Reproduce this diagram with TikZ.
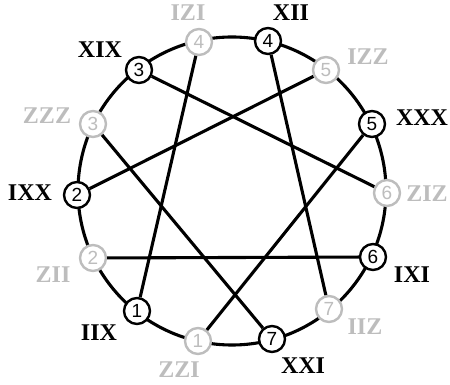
\documentclass[tikz,border=0pt]{standalone}
\usepackage{fontspec}
\setmainfont{Liberation Serif}
\newfontfamily\digitfont{Liberation Sans}
\usetikzlibrary{backgrounds}
\definecolor{pale}{gray}{0.74}
\begin{document}
\begin{tikzpicture}[x=1pt,y=1pt,
    qubit/.style={circle,draw,line width=2.4pt,fill=white,minimum size=26pt,
      inner sep=0pt,font=\digitfont\fontsize{19}{19}\selectfont},
    ghost/.style={qubit,draw=pale,text=pale},
    tag/.style={font=\bfseries\fontsize{24}{24}\selectfont},
    chord/.style={line width=3.1pt}]
  \useasboundingbox (0,0) rectangle (450,385);
  % black ring
  \node[qubit] (b1) at (137,74) {1};
  \node[qubit] (b2) at (77,190) {2};
  \node[qubit] (b3) at (139,315) {3};
  \node[qubit] (b4) at (268,344) {4};
  \node[qubit] (b5) at (372,261) {5};
  \node[qubit] (b6) at (373,128) {6};
  \node[qubit] (b7) at (272,46) {7};
  % grey ring
  \node[ghost] (g1) at (198,44) {1};
  \node[ghost] (g2) at (93,127) {2};
  \node[ghost] (g3) at (93,261) {3};
  \node[ghost] (g4) at (199,343) {4};
  \node[ghost] (g5) at (326,315) {5};
  \node[ghost] (g6) at (387,192) {6};
  \node[ghost] (g7) at (329,76) {7};
  % names
  \node[tag] (nb1) at (99,52) {IIX};
  \node[tag] (nb2) at (30,192) {IXX};
  \node[tag] (nb3) at (100,335) {XIX};
  \node[tag] (nb4) at (291,372) {XII};
  \node[tag] (nb5) at (422,267) {XXX};
  \node[tag] (nb6) at (412,110) {IXI};
  \node[tag] (nb7) at (303,19) {XXI};
  \node[tag,pale] (ng1) at (179,15) {ZZI};
  \node[tag,pale] (ng2) at (53,110) {ZII};
  \node[tag,pale] (ng3) at (47,269) {ZZZ};
  \node[tag,pale] (ng4) at (188,372) {IZI};
  \node[tag,pale] (ng5) at (368,328) {IZZ};
  \node[tag,pale] (ng6) at (427,191) {ZIZ};
  \node[tag,pale] (ng7) at (365,58) {IIZ};
  \begin{scope}[on background layer]
    \draw[chord] (232,194) circle (154);
  \end{scope}
  \draw[chord] (g4) -- (b1);
  \draw[chord] (g5) -- (b2);
  \draw[chord] (g6) -- (b3);
  \draw[chord] (g7) -- (b4);
  \draw[chord] (g1) -- (b5);
  \draw[chord] (g2) -- (b6);
  \draw[chord] (g3) -- (b7);
\end{tikzpicture}
\end{document}
